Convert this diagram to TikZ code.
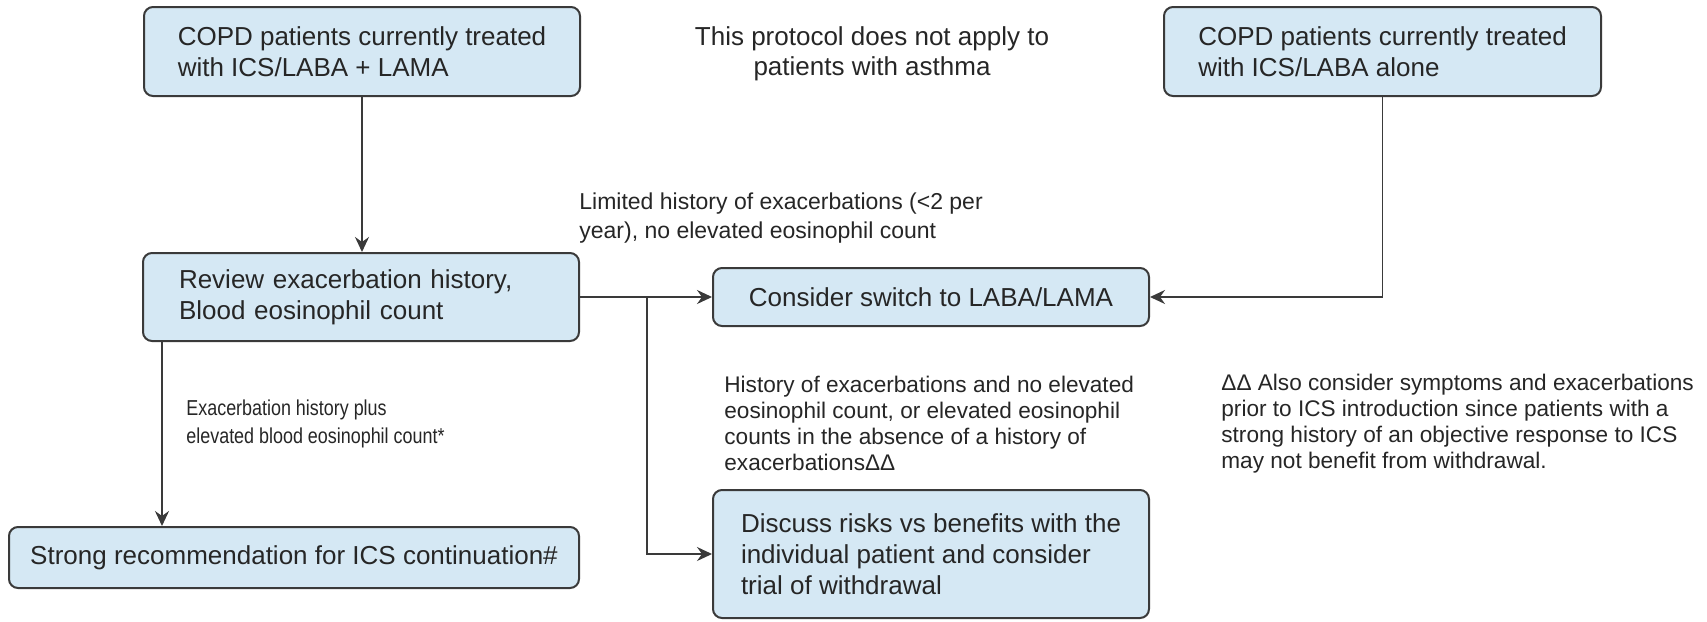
\documentclass[tikz,border=0pt]{standalone}
\usepackage{fontspec}
\setmainfont{Liberation Sans}
\newfontfamily\narrowfont[FakeStretch=0.83]{Liberation Sans}
\usetikzlibrary{arrows.meta}

\definecolor{boxfill}{HTML}{D5E8F4}
\definecolor{edge}{HTML}{3A3A3A}
\definecolor{ink}{HTML}{262626}

\tikzset{
  flowbox/.style={draw=edge, line width=1pt, fill=boxfill, rounded corners=4.5pt,
    text=ink, font=\fontsize{13}{15.4}\selectfont, align=left, inner ysep=0pt},
  note/.style={text=ink, font=\fontsize{11.3}{13.1}\selectfont, align=left,
    inner sep=0pt, anchor=west},
  arr/.style={draw=edge, line width=0.9pt,
    -{Stealth[length=7.5pt,width=7pt,inset=2.5pt]}}
}

\begin{document}
\begin{tikzpicture}[x=0.5pt, y=-0.5pt]
  \path[fill=white, use as bounding box] (0,0) rectangle (1707,621);

  % boxes
  \node[flowbox, minimum width=218pt, minimum height=44.5pt] (icslabalama) at (362,51.5)
    {COPD patients currently treated\\with ICS/LABA + LAMA};
  \node[flowbox, minimum width=218.5pt, minimum height=44.5pt] (icslaba) at (1382.5,51.5)
    {COPD patients currently treated\\with ICS/LABA alone};
  \node[flowbox, minimum width=218pt, minimum height=44pt, text width=182pt, inner xsep=18pt] (review) at (361,297)
    {Review exacerbation history,\\Blood eosinophil count};
  \node[flowbox, minimum width=218pt, minimum height=29pt] (switch) at (931,297)
    {Consider switch to LABA/LAMA};
  \node[flowbox, align=center, minimum width=285pt, minimum height=30.5pt] (continue) at (294,557.5)
    {Strong recommendation for ICS continuation\#};
  \node[flowbox, minimum width=218pt, minimum height=64pt] (discuss) at (931,554)
    {Discuss risks vs benefits with the\\individual patient and consider\\trial of withdrawal};

  % free text
  \node[text=ink, font=\fontsize{13}{15.2}\selectfont, align=center, inner sep=0pt] (scope) at (872,53.5)
    {This protocol does not apply to\\patients with asthma};
  \node[note, font=\fontsize{11.5}{14.2}\selectfont] (limited) at (579,218)
    {Limited history of exacerbations (<2 per\\year), no elevated eosinophil count};
  \node[note, font=\narrowfont\fontsize{10.8}{14}\selectfont] (eos) at (186,424)
    {Exacerbation history plus\\elevated blood eosinophil count*};
  \node[note] (mixed) at (724,423.5)
    {History of exacerbations and no elevated\\eosinophil count, or elevated eosinophil\\counts in the absence of a history of\\exacerbationsΔΔ};
  \node[note] (footnote) at (1221,423.5)
    {ΔΔ Also consider symptoms and exacerbations\\prior to ICS introduction since patients with a\\strong history of an objective response to ICS\\may not benefit from withdrawal.};

  % connectors
  \draw[arr] (icslabalama.south) -- (icslabalama.south |- review.north);
  \draw[arr] (review.east) -- (switch.west);
  \coordinate (split) at (647,297);
  \draw[arr] (split) |- (discuss.west);
  \draw[arr] (icslaba.south) |- (switch.east);
  \coordinate (down) at (162,341);
  \draw[arr] (down) -- (down |- continue.north);
\end{tikzpicture}
\end{document}
